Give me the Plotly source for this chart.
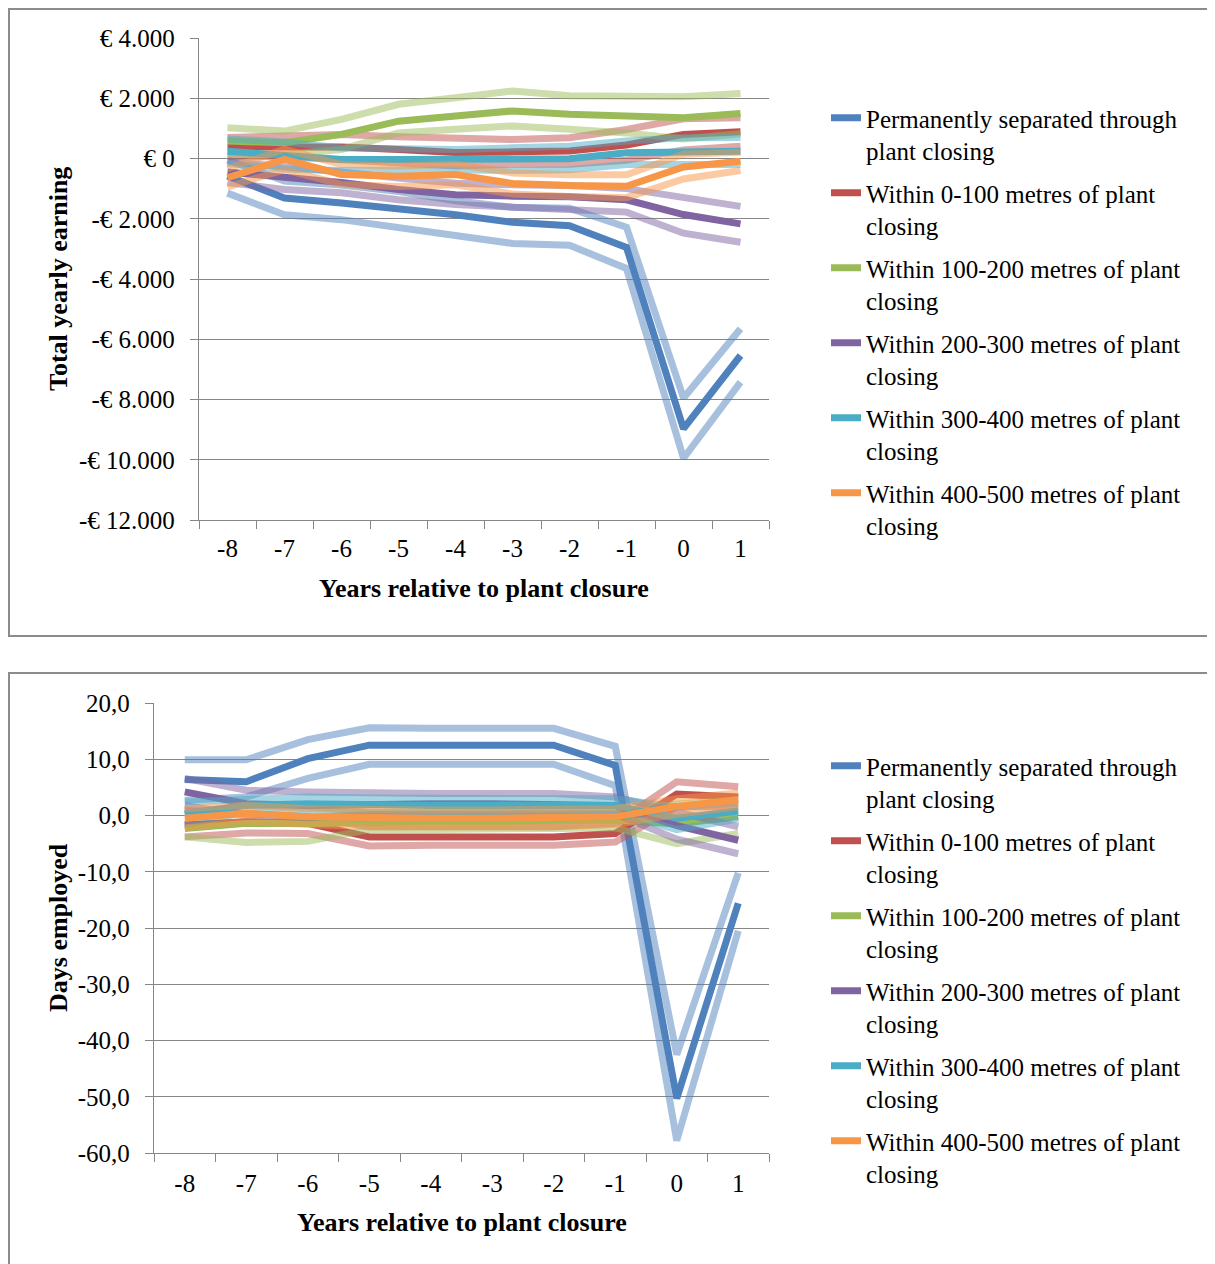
import plotly.graph_objects as go

W, H = 1215, 1264

years = ["-8", "-7", "-6", "-5", "-4", "-3", "-2", "-1", "0", "1"]

series_names = [
    "Permanently separated through<br>plant closing",
    "Within 0-100 metres of plant<br>closing",
    "Within 100-200 metres of plant<br>closing",
    "Within 200-300 metres of plant<br>closing",
    "Within 300-400 metres of plant<br>closing",
    "Within 400-500 metres of plant<br>closing",
]

# ---- Total yearly earning (EUR) ----
earn_perm = [-580, -1310, -1480, -1650, -1870, -2120, -2230, -2950, -8970, -6540]
earn_perm_hi = [-50, -750, -880, -1100, -1400, -1620, -1650, -2280, -7950, -5650]
earn_perm_lo = [-1150, -1870, -2030, -2300, -2580, -2820, -2880, -3650, -9950, -7420]

earn_0_100 = [380, 400, 380, 300, 200, 220, 250, 450, 800, 890]
earn_0_100_hi = [700, 740, 800, 720, 650, 630, 690, 965, 1320, 1350]
earn_0_100_lo = [60, 60, -40, -120, -250, -190, -190, -60, 280, 410]

earn_100_200 = [580, 520, 800, 1240, 1410, 1580, 1470, 1390, 1350, 1490]
earn_100_200_hi = [1020, 910, 1300, 1800, 2020, 2240, 2080, 2050, 2050, 2160]
earn_100_200_lo = [140, 130, 300, 850, 970, 1080, 970, 850, 650, 820]

earn_200_300 = [-450, -600, -800, -1030, -1200, -1250, -1270, -1370, -1860, -2170]
earn_200_300_hi = [-100, -250, -450, -650, -820, -870, -900, -1000, -1300, -1590]
earn_200_300_lo = [-800, -1030, -1140, -1370, -1530, -1600, -1680, -1780, -2480, -2780]

earn_300_400 = [240, 100, -30, -30, -30, -20, -10, 190, 240, 240]
earn_300_400_hi = [650, 550, 350, 300, 300, 355, 410, 580, 690, 700]
earn_300_400_lo = [-170, -350, -400, -370, -370, -400, -370, -200, -200, -200]

earn_400_500 = [-640, -30, -530, -590, -530, -830, -900, -920, -280, -90]
earn_400_500_hi = [-340, 310, -200, -250, -190, -480, -540, -540, 140, 210]
earn_400_500_lo = [-940, -370, -860, -930, -870, -1180, -1260, -1300, -680, -400]

# ---- Days employed ----
days_perm = [6.4, 6.0, 10.1, 12.5, 12.5, 12.5, 12.5, 8.9, -50.3, -15.6]
days_perm_hi = [9.9, 9.9, 13.5, 15.6, 15.5, 15.5, 15.5, 12.3, -42.5, -10.2]
days_perm_lo = [2.7, 3.3, 6.6, 9.1, 9.1, 9.1, 9.1, 5.3, -57.8, -20.5]

days_0_100 = [-1.7, -1.1, -1.4, -3.8, -3.8, -3.8, -3.8, -3.2, 3.8, 3.3]
days_0_100_hi = [0.9, 0.4, -0.2, -2.0, -2.0, -2.0, -2.0, -1.4, 6.0, 5.1]
days_0_100_lo = [-3.8, -3.1, -3.2, -5.4, -5.3, -5.3, -5.3, -4.7, 1.6, 1.5]

days_100_200 = [-2.3, -1.4, -1.4, -1.1, -1.1, -1.1, -1.1, -0.8, -1.5, -0.2]
days_100_200_hi = [0.2, 1.8, 1.6, 0.6, 0.6, 0.6, 0.6, 0.6, 2.0, 2.8]
days_100_200_lo = [-3.8, -4.8, -4.6, -2.5, -2.5, -2.5, -2.5, -2.2, -5.0, -3.2]

days_200_300 = [4.2, 2.1, 1.8, 2.1, 2.1, 2.1, 2.1, 1.8, -1.8, -4.4]
days_200_300_hi = [6.6, 4.5, 4.2, 3.9, 3.9, 3.9, 3.9, 3.3, 0.8, -2.0]
days_200_300_lo = [1.8, 0.0, -0.4, 0.2, 0.2, 0.2, 0.2, 0.3, -4.2, -6.8]

days_300_400 = [0.4, 1.8, 2.1, 1.8, 1.8, 1.8, 1.8, 1.8, -0.5, 0.8]
days_300_400_hi = [2.4, 3.0, 3.3, 3.1, 3.1, 3.1, 3.1, 3.0, 1.5, 2.2]
days_300_400_lo = [-1.6, 0.6, 0.9, 0.5, 0.5, 0.5, 0.5, 0.6, -2.5, -0.6]

days_400_500 = [-0.5, 0.4, -0.2, -0.5, -0.5, -0.5, -0.5, -0.2, 1.6, 2.8]
days_400_500_hi = [1.2, 1.8, 1.2, 1.0, 1.0, 1.0, 1.0, 1.2, 3.0, 4.0]
days_400_500_lo = [-2.2, -1.0, -1.6, -2.0, -2.0, -2.0, -2.0, -1.6, 0.2, 1.6]

earn_ticks = [4000, 2000, 0, -2000, -4000, -6000, -8000, -10000, -12000]
earn_ticktext = ["€ 4.000", "€ 2.000", "€ 0", "-€ 2.000", "-€ 4.000", "-€ 6.000",
                 "-€ 8.000", "-€ 10.000", "-€ 12.000"]
days_ticks = [20, 10, 0, -10, -20, -30, -40, -50, -60]
days_ticktext = ["20,0", "10,0", "0,0", "-10,0", "-20,0", "-30,0", "-40,0", "-50,0", "-60,0"]

colors = ["#4F81BD", "#C0504D", "#9BBB59", "#8064A2", "#4BACC6", "#F79646"]
light = ["rgba(79,129,189,0.5)", "rgba(192,80,77,0.5)", "rgba(155,187,89,0.5)",
         "rgba(128,100,162,0.5)", "rgba(75,172,198,0.5)", "rgba(247,150,70,0.5)"]

earn_sets = [
    (earn_perm, earn_perm_hi, earn_perm_lo),
    (earn_0_100, earn_0_100_hi, earn_0_100_lo),
    (earn_100_200, earn_100_200_hi, earn_100_200_lo),
    (earn_200_300, earn_200_300_hi, earn_200_300_lo),
    (earn_300_400, earn_300_400_hi, earn_300_400_lo),
    (earn_400_500, earn_400_500_hi, earn_400_500_lo),
]
days_sets = [
    (days_perm, days_perm_hi, days_perm_lo),
    (days_0_100, days_0_100_hi, days_0_100_lo),
    (days_100_200, days_100_200_hi, days_100_200_lo),
    (days_200_300, days_200_300_hi, days_200_300_lo),
    (days_300_400, days_300_400_hi, days_300_400_lo),
    (days_400_500, days_400_500_hi, days_400_500_lo),
]

FONT = "Liberation Serif"
LW = 7
fig = go.Figure()

for xa, ya, lg, sets in [("x", "y", "legend", earn_sets), ("x2", "y2", "legend2", days_sets)]:
    for i, (main, hi, lo) in enumerate(sets):
        for band in (lo, hi):
            fig.add_trace(go.Scatter(x=years, y=band, mode="lines", xaxis=xa, yaxis=ya,
                                     line=dict(color=light[i], width=LW),
                                     showlegend=False, hoverinfo="skip"))
        fig.add_trace(go.Scatter(x=years, y=main, mode="lines", xaxis=xa, yaxis=ya,
                                 line=dict(color=colors[i], width=LW),
                                 name=series_names[i], legend=lg, legendgroup=lg + str(i)))

OFF = 8  # page body margin


def px_x(p):
    return (p - OFF) / W


def px_y(p):
    return 1 - (p - OFF) / H


axis_common = dict(showline=True, linecolor="#868686", linewidth=1.3, ticks="outside",
                   ticklen=8, tickcolor="#868686", tickwidth=1.3,
                   tickfont=dict(family=FONT, size=25, color="#000000"))

title_font = dict(family=FONT, size=26, color="#000000")
leg_font = dict(family=FONT, size=25, color="#000000")

fig.update_layout(
    width=W, height=H, margin=dict(l=0, r=0, t=0, b=0, autoexpand=False),
    paper_bgcolor="white", plot_bgcolor="white",
    font=dict(family=FONT, size=25, color="#000000"),
    xaxis=dict(domain=[px_x(199), px_x(769)], anchor="y", type="category",
               categoryorder="array", categoryarray=years, range=[-0.5, 9.5],
               tickson="boundaries", showgrid=False, ticklabelstandoff=6, **axis_common),
    yaxis=dict(domain=[px_y(520), px_y(38)], anchor="x", range=[-12000, 4000],
               tickvals=earn_ticks, ticktext=earn_ticktext, showgrid=True,
               gridcolor="#868686", gridwidth=1.3, zeroline=False,
               ticklabelstandoff=10, **axis_common),
    xaxis2=dict(domain=[px_x(154), px_x(769)], anchor="y2", type="category",
                categoryorder="array", categoryarray=years, range=[-0.5, 9.5],
                tickson="boundaries", showgrid=False, ticklabelstandoff=8, **axis_common),
    yaxis2=dict(domain=[px_y(1153), px_y(703)], anchor="x2", range=[-60, 20],
                tickvals=days_ticks, ticktext=days_ticktext, showgrid=True,
                gridcolor="#868686", gridwidth=1.3, zeroline=False,
                ticklabelstandoff=10, **axis_common),
    legend=dict(x=px_x(826), y=px_y(95), xanchor="left", yanchor="top",
                font=leg_font, valign="top", tracegroupgap=7, bgcolor="rgba(0,0,0,0)"),
    legend2=dict(x=px_x(826), y=px_y(743), xanchor="left", yanchor="top",
                 font=leg_font, valign="top", tracegroupgap=7, bgcolor="rgba(0,0,0,0)"),
    shapes=[
        dict(type="rect", xref="paper", yref="paper", x0=px_x(9), x1=1.02,
             y0=px_y(636), y1=px_y(9), line=dict(color="#8C8C8C", width=2)),
        dict(type="rect", xref="paper", yref="paper", x0=px_x(9), x1=1.02,
             y0=-0.02, y1=px_y(673), line=dict(color="#8C8C8C", width=2)),
    ],
    annotations=[
        dict(text="<b>Total yearly earning</b>", x=px_x(58), y=px_y(279), xref="paper",
             yref="paper", xanchor="center", yanchor="middle", textangle=-90,
             showarrow=False, font=title_font),
        dict(text="<b>Years relative to plant closure</b>", x=px_x(484), y=px_y(588),
             xref="paper", yref="paper", xanchor="center", yanchor="middle",
             showarrow=False, font=title_font),
        dict(text="<b>Days employed</b>", x=px_x(58), y=px_y(928), xref="paper",
             yref="paper", xanchor="center", yanchor="middle", textangle=-90,
             showarrow=False, font=title_font),
        dict(text="<b>Years relative to plant closure</b>", x=px_x(462), y=px_y(1222),
             xref="paper", yref="paper", xanchor="center", yanchor="middle",
             showarrow=False, font=title_font),
    ],
)

fig.write_html("out.html")
